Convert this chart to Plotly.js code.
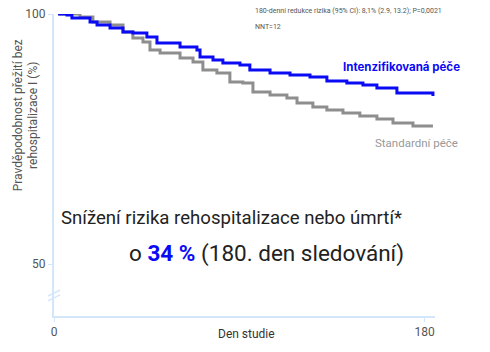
<!DOCTYPE html>
<html><head><meta charset="utf-8">
<script src="https://cdn.plot.ly/plotly-3.0.1.min.js"></script>
<style>html,body{margin:0;padding:0;background:#fff}#chart{width:490px;height:352px}</style>
</head><body><div id="chart"></div>
<script>
const dayIntensive = [2, 6.3, 8.7, 17.5, 20.9, 27.2, 33.5, 38.3, 45.1, 50, 61.2, 69.4, 70.9, 77.2, 82, 90.3, 95.1, 104.9, 114.6, 124.3, 132.5, 142.2, 150, 156.8, 166.5, 181.1, 184];
const survIntensive = [100, 99.8, 99.2, 98.4, 97.8, 97.2, 96.4, 96.2, 95.4, 94.2, 93.4, 92.8, 91.4, 90.8, 90.2, 89.8, 88.8, 88.2, 87.8, 87.4, 86.6, 86.2, 85.8, 85.2, 84.2, 84.2, 83.6];
const dayStandard = [2, 12.6, 18.9, 27.2, 33.5, 38.3, 43.2, 46.6, 51.5, 61.2, 67.5, 72.3, 79.1, 85.4, 91.7, 96.6, 104.9, 113.1, 118, 125.7, 132.5, 140.3, 148.5, 156.8, 164.6, 174.3, 184];
const survStandard = [100, 99.4, 98.4, 97.8, 96.4, 95.2, 94.4, 92.8, 92.2, 91.2, 90.4, 88.8, 88.2, 86.4, 86.2, 84.4, 83.8, 83.2, 82.2, 81.4, 80.8, 80.2, 79.6, 79, 78.2, 77.6, 77.6];
const xTicks = [0, 180];
const yTicks = [50, 100];
const seriesNames = ["Intenzifikovaná péče", "Standardní péče"];

const axisColor = "#d4e6fa";
const traces = [
  {x: dayStandard, y: survStandard, mode: "lines", line: {shape: "hv", color: "#8e8e8e", width: 3}, name: seriesNames[1], hoverinfo: "skip"},
  {x: dayIntensive, y: survIntensive, mode: "lines", line: {shape: "hv", color: "#0a0af5", width: 3}, name: seriesNames[0], hoverinfo: "skip"}
];
const layout = {
  width: 490, height: 352,
  margin: {l: 54, r: 55, t: 14, b: 36},
  paper_bgcolor: "#fff", plot_bgcolor: "#fff",
  showlegend: false,
  font: {family: "Roboto, sans-serif", color: "#555"},
  xaxis: {range: [0, 185], tickvals: xTicks, ticktext: xTicks.map(String), showgrid: false, zeroline: false,
    showline: true, linecolor: axisColor, linewidth: 2, ticks: "outside", ticklen: 4, tickcolor: axisColor,
    tickfont: {size: 12, color: "#555"}},
  yaxis: {range: [39.6, 100], tickvals: yTicks, ticktext: yTicks.map(String), showgrid: false, zeroline: false,
    showline: true, linecolor: axisColor, linewidth: 2, ticks: "outside", ticklen: 4, tickcolor: axisColor,
    tickfont: {size: 12, color: "#555"}},
  shapes: [
    {type: "line", xref: "paper", yref: "paper", x0: -0.016, x1: 0.016, y0: 0.066, y1: 0.086, line: {color: axisColor, width: 1.5}},
    {type: "line", xref: "paper", yref: "paper", x0: -0.016, x1: 0.016, y0: 0.050, y1: 0.070, line: {color: axisColor, width: 1.5}}
  ],
  annotations: [
    {xref: "paper", yref: "paper", x: -0.075, y: 0.666, xanchor: "center", yanchor: "middle", textangle: -90, showarrow: false,
     text: "Pravděpodobnost přežití bez<br>rehospitalizace I (%)", font: {size: 12, color: "#555"}},
    {xref: "paper", yref: "paper", x: 0.505, y: -0.058, xanchor: "center", yanchor: "middle", showarrow: false,
     text: "Den studie", font: {size: 12, color: "#333"}},
    {xref: "paper", yref: "paper", x: 0.522, y: 1.01, xanchor: "left", yanchor: "middle", showarrow: false, align: "left",
     text: "180-denní redukce rizika (95% CI): 8,1% (2.9, 13.2); P=0,0021", font: {size: 7, color: "#555"}},
    {xref: "paper", yref: "paper", x: 0.522, y: 0.958, xanchor: "left", yanchor: "middle", showarrow: false,
     text: "NNT=12", font: {size: 7, color: "#555"}},
    {xref: "paper", yref: "paper", x: 1.07, y: 0.825, xanchor: "right", yanchor: "middle", showarrow: false,
     text: "<b>" + seriesNames[0] + "</b>", font: {size: 11.5, color: "#0a0af5", family: "Inter, sans-serif"}},
    {xref: "paper", yref: "paper", x: 1.065, y: 0.572, xanchor: "right", yanchor: "middle", showarrow: false,
     text: seriesNames[1], font: {size: 11.5, color: "#999"}},
    {xref: "paper", yref: "paper", x: 0.919, y: 0.325, xanchor: "right", yanchor: "middle", showarrow: false,
     text: "Snížení rizika rehospitalizace nebo úmrtí*", font: {size: 18.6, color: "#222"}},
    {xref: "paper", yref: "paper", x: 0.925, y: 0.208, xanchor: "right", yanchor: "middle", showarrow: false,
     text: "o <b><span style=\"color:#0a0af5\">34 %</span></b> (180. den sledování)", font: {size: 22.5, color: "#222"}}
  ]
};
Plotly.newPlot("chart", traces, layout, {displayModeBar: false, staticPlot: true});
</script></body></html>
